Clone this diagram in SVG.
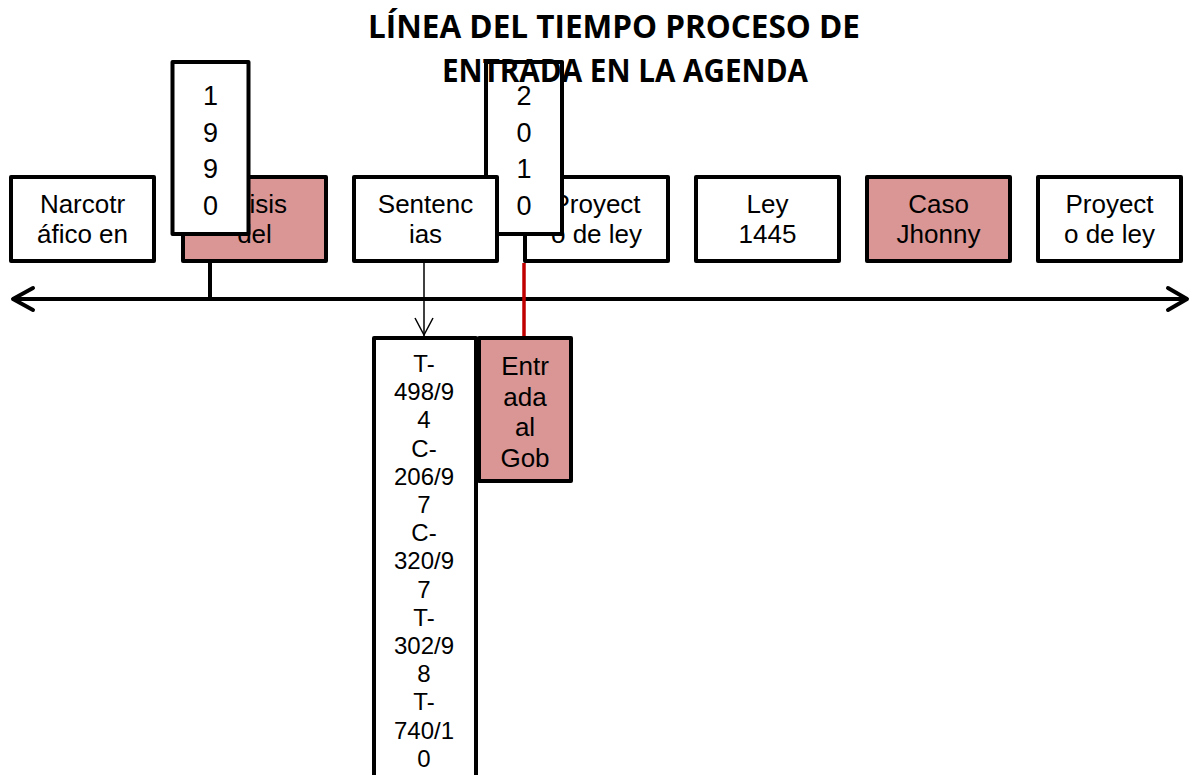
<svg xmlns="http://www.w3.org/2000/svg" width="1193" height="775" viewBox="0 0 1193 775">
<style>
.box{fill:#ffffff;stroke:#000000;stroke-width:4;stroke-linejoin:round}
.hl{fill:#D99694}
.t{font-family:"Liberation Sans",Arial,sans-serif;font-size:26px;fill:#000000;text-anchor:middle}
.d{font-size:27px}
.s{font-size:24px}
.title{font-family:"Open Sans","Liberation Sans",sans-serif;font-weight:bold;font-size:33px;fill:#000000;text-anchor:middle}
.ax{stroke:#000000;stroke-width:4;fill:none;stroke-linecap:round;stroke-linejoin:round}
</style>
<rect width="1193" height="775" fill="#ffffff"/>
<g id="connectors">
<line class="ax" x1="14" y1="299" x2="1186" y2="299"/>
<polyline class="ax" points="33,288 13,299 33,310"/>
<polyline class="ax" points="1168,288 1187,299 1168,310"/>
<line x1="210" y1="262" x2="210" y2="299" stroke="#000" stroke-width="4"/>
<line x1="424" y1="262" x2="424" y2="336" stroke="#000" stroke-width="1.5"/>
<polyline points="415,318 424,335 433,318" fill="none" stroke="#000" stroke-width="1.5"/>
<line x1="524" y1="263" x2="524" y2="337" stroke="#C00000" stroke-width="3.5"/>
</g>
<g id="n-narco"><rect class="box" x="11" y="177" width="143" height="84"/><text class="t" x="82.5" y="213">Narcotr</text><text class="t" x="82.5" y="243">áfico en</text></g>
<g id="n-crisis"><rect class="box hl" x="183" y="177" width="143" height="84"/><text class="t" x="254.5" y="213">Crisis</text><text class="t" x="254.5" y="243">del</text></g>
<g id="n-1990"><rect class="box" x="172.5" y="62" width="76" height="172"/><text class="t d" x="210.5" y="105">1</text><text class="t d" x="210.5" y="141.7">9</text><text class="t d" x="210.5" y="178.3">9</text><text class="t d" x="210.5" y="215">0</text></g>
<g id="n-proy1"><rect class="box" x="525" y="177" width="143" height="84"/><text class="t" x="596.5" y="213">Proyect</text><text class="t" x="596.5" y="243">o de ley</text></g>
<g id="n-2010"><rect class="box" x="486" y="62" width="76" height="172"/><text class="t d" x="524" y="105">2</text><text class="t d" x="524" y="141.7">0</text><text class="t d" x="524" y="178.3">1</text><text class="t d" x="524" y="215">0</text></g>
<g id="n-sent"><rect class="box" x="354" y="177" width="143" height="84"/><text class="t" x="425.5" y="213">Sentenc</text><text class="t" x="425.5" y="243">ias</text></g>
<g id="n-ley"><rect class="box" x="696" y="177" width="143" height="84"/><text class="t" x="767.5" y="213">Ley</text><text class="t" x="767.5" y="243">1445</text></g>
<g id="n-caso"><rect class="box hl" x="867" y="177" width="143" height="84"/><text class="t" x="938.5" y="213">Caso</text><text class="t" x="938.5" y="243">Jhonny</text></g>
<g id="n-proy2"><rect class="box" x="1038" y="177" width="143" height="84"/><text class="t" x="1109.5" y="213">Proyect</text><text class="t" x="1109.5" y="243">o de ley</text></g>
<g id="n-tlist"><rect class="box" x="374" y="338" width="102" height="460"/>
<text class="t s" x="424" y="372">T-</text>
<text class="t s" x="424" y="400.2">498/9</text>
<text class="t s" x="424" y="428.4">4</text>
<text class="t s" x="424" y="456.6">C-</text>
<text class="t s" x="424" y="484.8">206/9</text>
<text class="t s" x="424" y="513">7</text>
<text class="t s" x="424" y="541.2">C-</text>
<text class="t s" x="424" y="569.4">320/9</text>
<text class="t s" x="424" y="597.6">7</text>
<text class="t s" x="424" y="625.8">T-</text>
<text class="t s" x="424" y="654">302/9</text>
<text class="t s" x="424" y="682.2">8</text>
<text class="t s" x="424" y="710.4">T-</text>
<text class="t s" x="424" y="738.6">740/1</text>
<text class="t s" x="424" y="766.8">0</text>
</g>
<g id="n-entrada"><rect class="box hl" x="479" y="338" width="92" height="143"/><text class="t" x="525" y="375">Entr</text><text class="t" x="525" y="405.7">ada</text><text class="t" x="525" y="436.3">al</text><text class="t" x="525" y="467">Gob</text></g>
<g id="title"><text class="title" x="614" y="38" textLength="492" lengthAdjust="spacingAndGlyphs">LÍNEA DEL TIEMPO PROCESO DE</text><text class="title" x="625" y="82" textLength="366" lengthAdjust="spacingAndGlyphs">ENTRADA EN LA AGENDA</text></g>
</svg>
